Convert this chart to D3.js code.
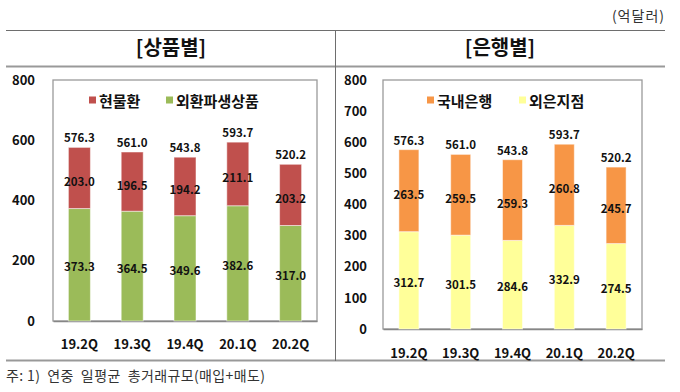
<!DOCTYPE html>
<html><head><meta charset="utf-8">
<script src="https://cdn.jsdelivr.net/npm/d3@7/dist/d3.min.js"></script>
<style>
body{margin:0;background:#fff;}
text{font-family:"Noto Sans CJK KR","Noto Sans",sans-serif;}
</style></head>
<body><svg id="c" width="680" height="392"></svg>
<script>
const quarters = ["19.2Q","19.3Q","19.4Q","20.1Q","20.2Q"];
// 상품별
const spotFx = [203.0,196.5,194.2,211.1,203.2];       // 현물환
const fxDerivatives = [373.3,364.5,349.6,382.6,317.0]; // 외환파생상품
const productTotals = [576.3,561.0,543.8,593.7,520.2];
// 은행별
const domesticBanks = [263.5,259.5,259.3,260.8,245.7]; // 국내은행
const foreignBranches = [312.7,301.5,284.6,332.9,274.5]; // 외은지점
const bankTotals = [576.3,561.0,543.8,593.7,520.2];
const leftTicks = [0,200,400,600,800];
const rightTicks = [0,100,200,300,400,500,600,700,800];

const svg = d3.select("#c");

// frame lines
svg.append("line").attr("x1",6).attr("x2",665).attr("y1",30.5).attr("y2",30.5).attr("stroke","#6e6e6e").attr("stroke-width",1);
svg.append("line").attr("x1",6).attr("x2",665).attr("y1",66.5).attr("y2",66.5).attr("stroke","#999").attr("stroke-width",2);
svg.append("line").attr("x1",6).attr("x2",665).attr("y1",360.5).attr("y2",360.5).attr("stroke","#999").attr("stroke-width",2);
svg.append("line").attr("x1",335.5).attr("x2",335.5).attr("y1",30).attr("y2",361).attr("stroke","#6e6e6e").attr("stroke-width",1);

svg.append("text").attr("x",665).attr("y",21).attr("text-anchor","end").attr("font-size",14).attr("fill","#333").attr("letter-spacing","1px").text("(억달러)");
svg.append("text").attr("x",171).attr("y",55).attr("text-anchor","middle").attr("font-size",20).attr("font-weight","bold").attr("fill","#111").text("[상품별]");
svg.append("text").attr("x",500).attr("y",55).attr("text-anchor","middle").attr("font-size",20).attr("font-weight","bold").attr("fill","#111").text("[은행별]");
svg.append("text").attr("x",6).attr("y",381).attr("font-size",14).attr("fill","#333").style("white-space","pre")
  .attr("textLength",259).attr("lengthAdjust","spacing").text("주: 1)  연중  일평균  총거래규모(매입+매도)");

function panel(cfg){
  const g = svg.append("g");
  const x = d3.scaleBand().domain(quarters).range([cfg.x0,cfg.x1]).paddingInner(0).paddingOuter(0);
  const y = d3.scaleLinear().domain([0,800]).range([cfg.y0,cfg.y1]);
  g.append("rect").attr("x",cfg.x0).attr("y",cfg.y1).attr("width",cfg.x1-cfg.x0).attr("height",cfg.y0-cfg.y1)
    .attr("fill","none").attr("stroke","#9a9a9a").attr("stroke-width",1.3);
  const yAx = g.append("g").attr("transform",`translate(${cfg.labelX},0)`).call(d3.axisLeft(y).tickValues(cfg.ticks).tickSize(0).tickPadding(0));
  yAx.select(".domain").remove();
  yAx.selectAll("text").attr("font-size",13).attr("font-weight","bold").attr("fill","#111").attr("font-family",'"Noto Sans CJK KR",sans-serif');
  const xAx = g.append("g").attr("transform",`translate(0,${cfg.y0})`).call(d3.axisBottom(x).tickSize(0).tickPadding(cfg.xPad));
  xAx.select(".domain").attr("stroke","#868686").attr("stroke-width",1.5);
  xAx.selectAll("text").attr("font-size",13).attr("font-weight","bold").attr("fill","#111").attr("font-family",'"Noto Sans CJK KR",sans-serif');
  const bw = cfg.bw;
  quarters.forEach((q,i)=>{
    const cx = x(q)+x.bandwidth()/2;
    const b = cfg.bottom[i], t = cfg.top[i];
    g.append("rect").attr("x",cx-bw/2).attr("width",bw).attr("y",y(b)).attr("height",y(0)-y(b))
      .attr("fill",cfg.colors[1]).attr("stroke","#fff").attr("stroke-opacity",0.5).attr("stroke-width",1);
    g.append("rect").attr("x",cx-bw/2).attr("width",bw).attr("y",y(b+t)).attr("height",y(b)-y(b+t))
      .attr("fill",cfg.colors[0]).attr("stroke","#fff").attr("stroke-opacity",0.5).attr("stroke-width",1);
    const lab = (v,yy)=>g.append("text").attr("x",cx).attr("y",yy).attr("text-anchor","middle").attr("dominant-baseline","central")
      .attr("font-size",11.5).attr("font-weight","bold").attr("fill","#111").text(v.toFixed(1));
    lab(cfg.totals[i], y(cfg.totals[i])-10);
    lab(t, (y(b)+y(b+t))/2+3);
    lab(b, (y(0)+y(b))/2+1.5);
  });
  cfg.legend.forEach((l,i)=>{
    g.append("rect").attr("x",l.x).attr("y",96.5).attr("width",7).attr("height",7).attr("fill",cfg.colors[i]);
    g.append("text").attr("x",l.x+10).attr("y",100).attr("dominant-baseline","central").attr("font-size",15).attr("font-weight","bold").attr("fill","#111").text(l.name);
  });
}

panel({x0:53,x1:317,y0:321,y1:80,labelX:35,ticks:leftTicks,xPad:19,bw:22,
  bottom:fxDerivatives,top:spotFx,totals:productTotals,colors:["#C0504D","#9BBB59"],
  legend:[{x:89,name:"현물환"},{x:166,name:"외환파생상품"}]});
panel({x0:383,x1:642,y0:329,y1:80,labelX:367,ticks:rightTicks,xPad:20,bw:20,
  bottom:foreignBranches,top:domesticBanks,totals:bankTotals,colors:["#F79646","#FFFF99"],
  legend:[{x:427,name:"국내은행"},{x:519,name:"외은지점"}]});
</script></body></html>
